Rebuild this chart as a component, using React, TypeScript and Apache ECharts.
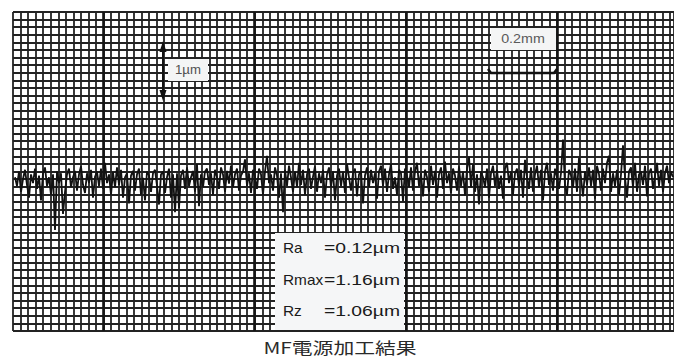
import React, { useEffect, useRef } from "react";
import * as echarts from "echarts";

// Surface roughness profile (µm), sampled evenly along the trace
const profile: number[] = [
  0.05, -0.1, 0.15, -0.2, 0.02, 0.18, -0.08, -0.3, 0.1, -0.05,
  0.2, -0.15, 0.08, -0.35, 0.12, 0.22, -0.1, 0.05, -0.25, 0.1,
  -0.86, 0.15, -0.05, 0.12, -0.58, -0.2, 0.1, 0.2, -0.12, 0.05,
  0.16, -0.18, 0.1, 0.24, -0.08, -0.22, 0.12, -0.05, 0.18, -0.3,
  0.06, 0.15, -0.1, 0.2, -0.15, 0.3, -0.05, 0.1, -0.25, 0.14,
  -0.12, 0.22, -0.08, 0.18, -0.3, 0.05, 0.12, -0.4, 0.08, 0.16,
  -0.18, 0.1, 0.2, -0.25, 0.04, -0.35, 0.15, 0.08, -0.2, 0.12,
  0.18, -0.1, -0.42, 0.1, 0.15, -0.22, 0.05, 0.2, -0.3, 0.1,
  -0.55, 0.12, -0.48, 0.08, 0.18, -0.15, 0.22, -0.1, 0.05, 0.16,
  -0.2, 0.28, -0.45, 0.1, -0.12, 0.15, 0.2, -0.08, 0.12, -0.25,
  0.18, 0.05, -0.15, 0.22, 0.1, -0.2, 0.16, -0.06, 0.25, -0.12,
  0.1, 0.2, -0.18, 0.08, 0.15, 0.36, -0.1, 0.12, -0.22, 0.18,
  0.05, -0.15, 0.2, 0.1, -0.25, 0.15, 0.42, -0.05, 0.1, -0.18,
  0.22, 0.08, -0.3, 0.12, -0.55, 0.18, -0.1, 0.25, 0.05, -0.2,
  0.15, -0.12, 0.3, -0.08, 0.18, -0.25, 0.1, 0.2, -0.15, 0.06,
  0.24, -0.2, 0.12, -0.05, 0.18, -0.3, 0.1, 0.22, -0.12, 0.15,
  -0.35, 0.08, 0.2, -0.1, 0.15, -0.22, 0.28, 0.05, -0.18, 0.12,
  0.2, -0.28, 0.1, 0.16, -0.4, 0.08, 0.22, -0.12, 0.18, -0.05,
  0.12, -0.32, 0.15, 0.25, -0.1, 0.2, -0.2, 0.1, 0.28, -0.15,
  0.05, -0.25, 0.18, 0.12, -0.36, 0.2, 0.08, -0.12, 0.22, -0.18,
  0.15, 0.3, -0.1, 0.12, -0.28, 0.18, 0.05, -0.2, 0.25, -0.08,
  0.16, -0.3, 0.1, 0.22, -0.15, 0.32, -0.05, 0.12, -0.22, 0.2,
  0.08, -0.18, 0.24, -0.1, 0.15, -0.26, 0.2, 0.4, -0.12, 0.28,
  -0.2, 0.1, -0.42, 0.15, 0.05, -0.12, 0.2, -0.3, 0.12, 0.25,
  -0.1, 0.18, -0.15, 0.08, -0.32, 0.2, 0.3, -0.05, 0.15, -0.25,
  0.12, 0.2, -0.1, 0.18, -0.3, 0.35, 0.05, -0.15, 0.22, -0.2,
  0.1, 0.25, -0.12, 0.18, -0.35, 0.15, 0.3, -0.08, 0.12, -0.18,
  0.2, 0.05, -0.15, 0.12, 0.7, -0.1, -0.25, 0.18, 0.08, -0.12,
  0.2, -0.2, 0.38, 0.05, -0.28, 0.15, -0.08, 0.22, -0.1, 0.18,
  -0.32, 0.25, 0.1, -0.18, 0.2, -0.05, 0.3, 0.42, -0.2, 0.12,
  -0.1, 0.18, -0.25, 0.1, 0.6, 0.05, -0.3, 0.15, 0.22, -0.12,
  0.3, -0.2, 0.1, 0.15, -0.08, 0.25, -0.28, 0.12, 0.2, -0.15,
  0.08, 0.3, -0.1, 0.18, -0.2, 0.12, 0.25, -0.05, 0.15, 0.05,
];

// Chart-paper grid (in small-cell units)
const gridCols = 87.5;
const gridRows = 42;
const majorCols = [12, 32, 52, 72];

// Annotations
const verticalScaleLabel = "1µm";
const horizontalScaleLabel = "0.2mm";
const statLabels = ["Ra", "Rmax", "Rz"];
const statValues = ["=0.12µm", "=1.16µm", "=1.06µm"];
const title = "MF電源加工結果";

const GRID_COLOR = "#232323";

export default function App() {
  const ref = useRef<HTMLDivElement>(null);

  useEffect(() => {
    if (!ref.current) return;
    const chart = echarts.init(ref.current, undefined, { renderer: "svg" });

    const statRowsY = [248, 280, 311];
    const statGraphics: any[] = [];
    statLabels.forEach((lab, i) => {
      statGraphics.push({
        type: "text",
        x: 283,
        y: statRowsY[i],
        z: 110,
        scaleX: 1.1,
        style: {
          text: lab,
          fill: "#1a1a1a",
          font: "14px 'Liberation Sans', Arial, sans-serif",
          align: "left",
          verticalAlign: "middle",
        },
      });
      statGraphics.push({
        type: "text",
        x: 400,
        y: statRowsY[i],
        z: 110,
        scaleX: 1.38,
        style: {
          text: statValues[i],
          fill: "#1a1a1a",
          font: "14px 'Liberation Sans', Arial, sans-serif",
          align: "right",
          verticalAlign: "middle",
        },
      });
    });

    chart.setOption({
      animation: false,
      backgroundColor: "#ffffff",
      grid: { left: 13, right: 0, top: 12, bottom: 30, containLabel: false },
      xAxis: [
        {
          type: "value",
          min: 0,
          max: gridCols,
          interval: 1,
          axisLabel: { show: false },
          axisTick: { show: false },
          axisLine: { show: false },
          splitLine: { show: true, lineStyle: { color: GRID_COLOR, width: 1.8 } },
        },
        {
          type: "value",
          min: -1,
          max: profile.length - 0.5,
          show: false,
        },
      ],
      yAxis: [
        {
          type: "value",
          min: 0,
          max: gridRows,
          interval: 1,
          axisLabel: { show: false },
          axisTick: { show: false },
          axisLine: { show: false },
          splitLine: { show: true, lineStyle: { color: GRID_COLOR, width: 1.8 } },
        },
        {
          type: "value",
          min: -2.6,
          max: 2.9,
          show: false,
        },
      ],
      series: [
        {
          type: "line",
          xAxisIndex: 0,
          yAxisIndex: 0,
          data: [],
          silent: true,
          markLine: {
            silent: true,
            symbol: ["none", "none"],
            label: { show: false },
            lineStyle: { color: "#151515", width: 2.6, type: "solid" },
            data: majorCols.map((c) => ({ xAxis: c })),
          },
        },
        {
          type: "line",
          xAxisIndex: 1,
          yAxisIndex: 1,
          showSymbol: false,
          silent: true,
          z: 5,
          lineStyle: { color: "#111111", width: 1.8 },
          data: profile.map((v, i) => [i, v]),
        },
      ],
      graphic: [
        // 1µm vertical scale
        { type: "rect", z: 100, shape: { x: 168, y: 59, width: 40, height: 22 }, style: { fill: "#f4f5f5" } },
        {
          type: "text", z: 110, x: 188, y: 70, scaleX: 1.1,
          style: { text: verticalScaleLabel, fill: "#505050", font: "12px 'Liberation Sans', Arial, sans-serif", align: "center", verticalAlign: "middle" },
        },
        { type: "line", z: 110, shape: { x1: 163, y1: 48, x2: 163, y2: 94 }, style: { stroke: "#111", lineWidth: 2 } },
        { type: "polygon", z: 110, shape: { points: [[163, 41], [159.5, 52], [166.5, 52]] }, style: { fill: "#111" } },
        { type: "polygon", z: 110, shape: { points: [[163, 101], [159.5, 90], [166.5, 90]] }, style: { fill: "#111" } },
        // 0.2mm horizontal scale
        { type: "rect", z: 100, shape: { x: 491, y: 28, width: 65, height: 22 }, style: { fill: "#f4f5f5" } },
        {
          type: "text", z: 110, x: 523, y: 39, scaleX: 1.1,
          style: { text: horizontalScaleLabel, fill: "#5a5a5a", font: "13px 'Liberation Sans', Arial, sans-serif", align: "center", verticalAlign: "middle" },
        },
        { type: "polyline", z: 110, shape: { points: [[488, 69], [491, 73], [554, 73], [557, 69]] }, style: { stroke: "#111", lineWidth: 2.5, fill: null } },
        // statistics box
        { type: "rect", z: 100, shape: { x: 275, y: 233, width: 129, height: 97 }, style: { fill: "#f5f6f7" } },
        ...statGraphics,
        // caption
        {
          type: "text", z: 110, x: 340, y: 347, scaleX: 1.3,
          style: { text: title, fill: "#2a2a2a", font: "16px 'Noto Sans CJK JP', sans-serif", align: "center", verticalAlign: "middle" },
        },
      ],
    });

    return () => chart.dispose();
  }, []);

  return (
    <div
      ref={ref}
      style={{ position: "fixed", left: 0, top: 0, width: 674, height: 361, background: "#fff" }}
    />
  );
}
